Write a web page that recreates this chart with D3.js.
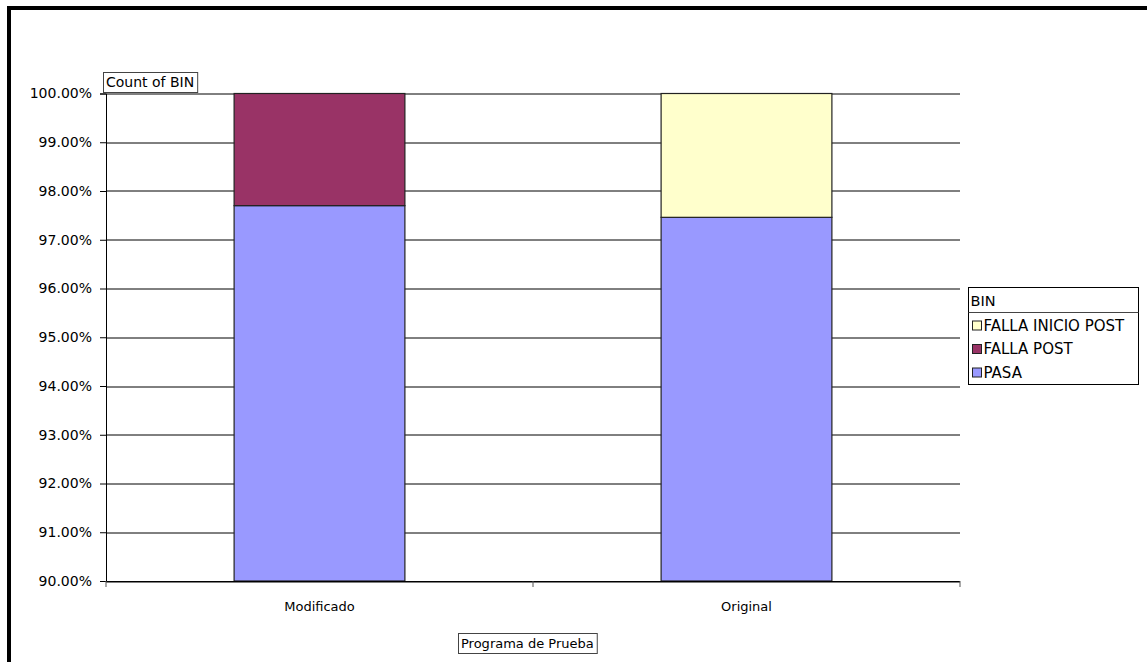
<!DOCTYPE html>
<html>
<head>
<meta charset="utf-8">
<script src="https://cdn.jsdelivr.net/npm/d3@7"></script>
<style>
  body { margin: 0; background: #fff; }
  text { font-family: "DejaVu Sans", Verdana, sans-serif; font-size: 13px; fill: #000; }
</style>
</head>
<body>
<svg id="chart"></svg>
<script>
// data
var categories = ["Modificado", "Original"];
var seriesNames = ["PASA", "FALLA POST", "FALLA INICIO POST"];
var seriesColors = ["#9999ff", "#993366", "#ffffcc"];
var pasa = [97.70, 97.46];
var fallaPost = [2.30, 0];
var fallaInicioPost = [0, 2.54];
var yTicks = [90, 91, 92, 93, 94, 95, 96, 97, 98, 99, 100];

var width = 1147, height = 662;
var margin = {top: 93.5, left: 106, right: 187, bottom: 81};

var svg = d3.select('#chart')
    .attr('width', width)
    .attr('height', height);

// outer frame (only top and left show)
svg.append('rect')
    .attr('x', 9).attr('y', 8)
    .attr('width', width + 20).attr('height', height + 20)
    .attr('fill', 'none')
    .attr('stroke', '#000')
    .attr('stroke-width', 4);

var plotW = width - margin.left - margin.right;
var plotH = height - margin.top - margin.bottom;

var chart = svg.append('g')
    .attr('transform', `translate(${margin.left}, ${margin.top})`);

var xScale = d3.scaleBand()
    .domain(categories)
    .range([0, plotW])
    .paddingInner(0.6)
    .paddingOuter(0.3);

var bandScale = d3.scaleBand().domain(categories).range([0, plotW]);

var yScale = d3.scaleLinear()
    .domain([90, 100])
    .range([plotH, 0]);

// gridlines
chart.selectAll('.grid')
    .data(yTicks)
    .join('line')
    .attr('x1', 0).attr('x2', plotW)
    .attr('y1', d => Math.round(yScale(d)) + 0.5)
    .attr('y2', d => Math.round(yScale(d)) + 0.5)
    .attr('stroke', '#000')
    .attr('stroke-width', 1);

// stacked bars
var rows = categories.map((c, i) => ({cat: c, "PASA": pasa[i], "FALLA POST": fallaPost[i], "FALLA INICIO POST": fallaInicioPost[i]}));
var stack = d3.stack().keys(seriesNames)(rows);

stack.forEach((layer, k) => {
    chart.append('g')
        .selectAll('rect')
        .data(layer.filter(d => d[1] - d[0] > 0))
        .join('rect')
        .attr('x', d => xScale(d.data.cat))
        .attr('width', xScale.bandwidth())
        .attr('y', d => yScale(Math.min(d[1], 100)))
        .attr('height', d => yScale(Math.max(d[0], 90)) - yScale(Math.min(d[1], 100)))
        .attr('fill', seriesColors[k])
        .attr('stroke', '#222')
        .attr('stroke-width', 1.2);
});

// y axis
var yAxis = d3.axisLeft(yScale)
    .tickValues(yTicks)
    .tickSize(6)
    .tickPadding(8)
    .tickFormat(d => d3.format('.2f')(d) + '%');
var yAxisGroup = chart.append('g').call(yAxis);
yAxisGroup.attr('font-size', null).attr('font-family', null);
yAxisGroup.selectAll('text').style('font-size', '14px');
yAxisGroup.select('.domain').attr('stroke', '#000');

// x axis: ticks at band boundaries
var xAxisGroup = chart.append('g')
    .attr('transform', `translate(0, ${plotH})`);
xAxisGroup.append('line')
    .attr('x1', 0).attr('x2', plotW)
    .attr('y1', 0.5).attr('y2', 0.5)
    .attr('stroke', '#000');
var bounds = [0].concat(categories.map(c => bandScale(c) + bandScale.bandwidth()));
xAxisGroup.selectAll('.xtick')
    .data(bounds)
    .join('line')
    .attr('x1', d => d).attr('x2', d => d)
    .attr('y1', 0).attr('y2', 6)
    .attr('stroke', '#555');
xAxisGroup.selectAll('.xlabel')
    .data(categories)
    .join('text')
    .attr('x', d => bandScale(d) + bandScale.bandwidth() / 2)
    .attr('y', 30)
    .attr('text-anchor', 'middle')
    .text(d => d);

// field buttons
function fieldBox(x, y, label, size) {
    var g = svg.append('g');
    var t = g.append('text').attr('x', x + 3).attr('y', y + 15)
        .style('font-size', size + 'px').text(label);
    var w = t.node().getComputedTextLength();
    g.insert('rect', 'text')
        .attr('x', x + 0.5).attr('y', y + 0.5)
        .attr('width', w + 6).attr('height', 20)
        .attr('fill', '#fff')
        .attr('stroke', '#444');
}
fieldBox(103, 72, 'Count of BIN', 14);
fieldBox(458, 633, 'Programa de Prueba', 13);

// legend
var lg = svg.append('g').attr('transform', 'translate(968.5, 287.5)');
lg.append('rect')
    .attr('width', 170).attr('height', 97)
    .attr('fill', '#fff').attr('stroke', '#000');
lg.append('line')
    .attr('x1', 0).attr('x2', 170).attr('y1', 25).attr('y2', 25)
    .attr('stroke', '#444');
lg.append('text').attr('x', 2).attr('y', 18).style('font-size', '14.5px').text('BIN');
var legendOrder = [2, 1, 0];
legendOrder.forEach((k, i) => {
    var yy = 38 + i * 23.5;
    lg.append('rect')
        .attr('x', 4).attr('y', yy - 4.5)
        .attr('width', 9).attr('height', 9)
        .attr('fill', seriesColors[k])
        .attr('stroke', '#222');
    lg.append('text')
        .attr('x', 15).attr('y', yy + 5)
        .style('font-size', '15px')
        .text(seriesNames[k]);
});
</script>
</body>
</html>
